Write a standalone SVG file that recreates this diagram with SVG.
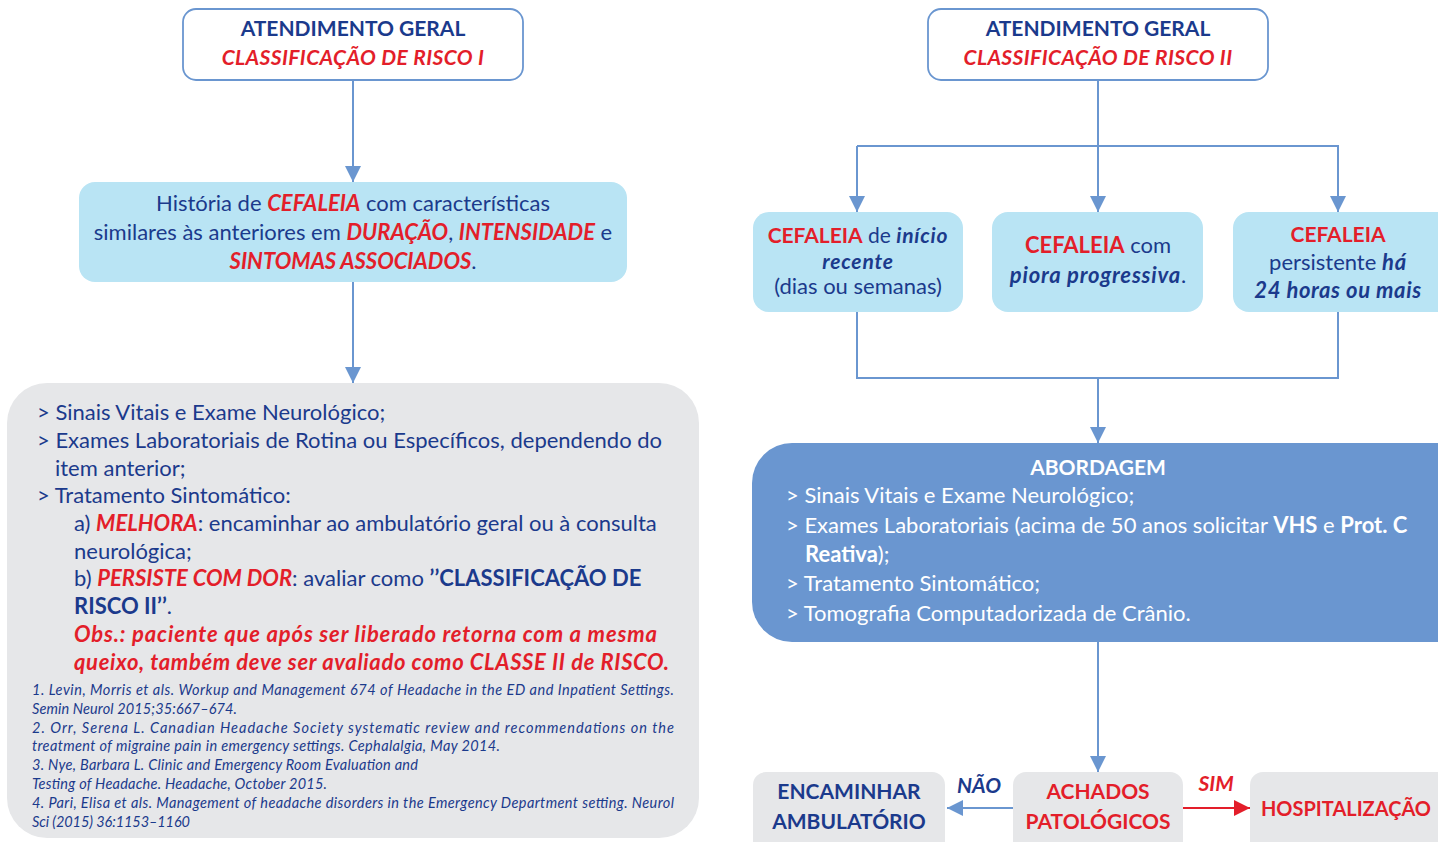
<svg xmlns="http://www.w3.org/2000/svg" width="1438" height="842" viewBox="0 0 1438 842">
<style>
text{font-family:Lato,"Open Sans","Liberation Sans",sans-serif;fill:#1b3a8c}
.b{font-weight:bold}
.i{font-style:italic}
.r{fill:#e31e2a}
.w{fill:#ffffff}
.c{text-anchor:middle}
.t{font-size:22px}
.h{font-size:21px}
.sp{letter-spacing:0.8px}
.ref{font-size:14.5px;font-style:italic}
.ln{stroke:#6a96d0;stroke-width:2;fill:none}
.white{fill:#ffffff;stroke:#6a96d0;stroke-width:1.8}
.lb{fill:#b9e4f4}
.gr{fill:#e6e7e9}
.db{fill:#6a96d0}
</style>
<defs>
<marker id="ab" markerUnits="userSpaceOnUse" markerWidth="16" markerHeight="18" refX="16" refY="8" orient="auto"><path d="M0,0 L16,8 L0,16 z" fill="#6a96d0"/></marker>
<marker id="ar" markerUnits="userSpaceOnUse" markerWidth="16" markerHeight="18" refX="16" refY="8" orient="auto"><path d="M0,0 L16,8 L0,16 z" fill="#e31e2a"/></marker>
</defs>

<g id="connectors">
<path class="ln" d="M353,80 V182" marker-end="url(#ab)"/>
<path class="ln" d="M353,282 V383" marker-end="url(#ab)"/>
<path class="ln" d="M1098,80 V146"/>
<path class="ln" d="M857,146 H1338 V212" marker-end="url(#ab)"/>
<path class="ln" d="M857,146 V212" marker-end="url(#ab)"/>
<path class="ln" d="M1098,146 V212" marker-end="url(#ab)"/>
<path class="ln" d="M857,312 V378 H1338 V312"/>
<path class="ln" d="M1098,378 V443" marker-end="url(#ab)"/>
<path class="ln" d="M1098,642 V772" marker-end="url(#ab)"/>
<path class="ln" d="M1013,808 H947" marker-end="url(#ab)"/>
<path d="M1183,808 H1250" stroke="#e31e2a" stroke-width="2" fill="none" marker-end="url(#ar)"/>
<text class="b i h" x="979" y="793" text-anchor="middle">NÃO</text>
<text class="b i h r" x="1216" y="791" text-anchor="middle">SIM</text>
</g>

<g id="top-left">
<rect class="white" x="183" y="9" width="340" height="71" rx="13"/>
<text class="b c h" x="353" y="36">ATENDIMENTO GERAL</text>
<text class="b i c h r" x="353" y="65" letter-spacing="0.4">CLASSIFICAÇÃO DE RISCO I</text>
</g>

<g id="historia">
<rect class="lb" x="79" y="182" width="548" height="100" rx="16"/>
<text class="c t" x="353" y="211">História de <tspan class="b i r">CEFALEIA</tspan> com características</text>
<text class="c t" x="353" y="240">similares às anteriores em <tspan class="b i r">DURAÇÃO</tspan>, <tspan class="b i r">INTENSIDADE</tspan> e</text>
<text class="c t" x="353" y="269"><tspan class="b i r">SINTOMAS ASSOCIADOS</tspan>.</text>
</g>

<g id="conduta">
<rect class="gr" x="7" y="383" width="692" height="455" rx="40"/>
<text class="t" x="37" y="420">&gt; Sinais Vitais e Exame Neurológico;</text>
<text class="t" x="37" y="448">&gt; Exames Laboratoriais de Rotina ou Específicos, dependendo do</text>
<text class="t" x="55" y="476">item anterior;</text>
<text class="t" x="37" y="503">&gt; Tratamento Sintomático:</text>
<text class="t" x="74" y="531">a) <tspan class="b i r">MELHORA</tspan>: encaminhar ao ambulatório geral ou à consulta</text>
<text class="t" x="74" y="559">neurológica;</text>
<text class="t" x="74" y="586">b) <tspan class="b i r">PERSISTE COM DOR</tspan>: avaliar como <tspan class="b">’’CLASSIFICAÇÃO DE</tspan></text>
<text class="t" x="74" y="614"><tspan class="b">RISCO II’’</tspan>.</text>
<text class="t b i r" x="74" y="642" textLength="583" lengthAdjust="spacing">Obs.: paciente que após ser liberado retorna com a mesma</text>
<text class="t b i r" x="74" y="670" textLength="595" lengthAdjust="spacing">queixo, também deve ser avaliado como CLASSE II de RISCO.</text>
<text class="ref" x="32" y="695" textLength="642" lengthAdjust="spacing">1. Levin, Morris et als. Workup and Management 674 of Headache in the ED and Inpatient Settings.</text>
<text class="ref" x="32" y="714" textLength="205" lengthAdjust="spacing">Semin Neurol 2015;35:667–674.</text>
<text class="ref" x="32" y="733" textLength="642" lengthAdjust="spacing">2. Orr, Serena L. Canadian Headache Society systematic review and recommendations on the</text>
<text class="ref" x="32" y="751" textLength="468" lengthAdjust="spacing">treatment of migraine pain in emergency settings. Cephalalgia, May 2014.</text>
<text class="ref" x="32" y="770" textLength="386" lengthAdjust="spacing">3. Nye, Barbara L. Clinic and Emergency Room Evaluation and</text>
<text class="ref" x="32" y="789" textLength="295" lengthAdjust="spacing">Testing of Headache. Headache, October 2015.</text>
<text class="ref" x="32" y="808" textLength="642" lengthAdjust="spacing">4. Pari, Elisa et als. Management of headache disorders in the Emergency Department setting. Neurol</text>
<text class="ref" x="32" y="827" textLength="158" lengthAdjust="spacing">Sci (2015) 36:1153–1160</text>
</g>

<g id="top-right">
<rect class="white" x="928" y="9" width="340" height="71" rx="13"/>
<text class="b c h" x="1098" y="36">ATENDIMENTO GERAL</text>
<text class="b i c h r" x="1098" y="65" letter-spacing="0.4">CLASSIFICAÇÃO DE RISCO II</text>
</g>

<g id="inicio-recente">
<rect class="lb" x="753" y="212" width="210" height="100" rx="16"/>
<text class="c h" x="858" y="243"><tspan class="b r">CEFALEIA</tspan> de <tspan class="b i sp">início</tspan></text>
<text class="c h b i sp" x="858" y="269">recente</text>
<text class="c t" x="858" y="294">(dias ou semanas)</text>
</g>

<g id="piora-progressiva">
<rect class="lb" x="992" y="212" width="211" height="100" rx="16"/>
<text class="c t" x="1098" y="253"><tspan class="b r">CEFALEIA</tspan> com</text>
<text class="c t" x="1098" y="283"><tspan class="b i sp">piora progressiva</tspan>.</text>
</g>

<g id="persistente">
<rect class="lb" x="1233" y="212" width="220" height="100" rx="16"/>
<text class="c h b r" x="1338" y="242">CEFALEIA</text>
<text class="c t" x="1338" y="270">persistente <tspan class="b i sp">há</tspan></text>
<text class="c t b i" x="1338" y="298" letter-spacing="0.6">24 horas ou mais</text>
</g>

<g id="abordagem">
<rect class="db" x="752" y="443" width="730" height="199" rx="40"/>
<text class="c h b w" x="1098" y="475">ABORDAGEM</text>
<text class="t w" x="786" y="503">&gt; Sinais Vitais e Exame Neurológico;</text>
<text class="t w" x="786" y="533">&gt; Exames Laboratoriais (acima de 50 anos solicitar <tspan class="b">VHS</tspan> e <tspan class="b">Prot. C</tspan></text>
<text class="t w" x="805" y="562"><tspan class="b">Reativa</tspan>);</text>
<text class="t w" x="786" y="591">&gt; Tratamento Sintomático;</text>
<text class="t w" x="786" y="621">&gt; Tomografia Computadorizada de Crânio.</text>
</g>

<g id="encaminhar">
<rect class="gr" x="753" y="772" width="192" height="90" rx="13"/>
<text class="c h b" x="849" y="799">ENCAMINHAR</text>
<text class="c h b" x="849" y="829">AMBULATÓRIO</text>
</g>

<g id="achados">
<rect class="gr" x="1013" y="772" width="170" height="90" rx="13"/>
<text class="c h b r" x="1098" y="799">ACHADOS</text>
<text class="c h b r" x="1098" y="829">PATOLÓGICOS</text>
</g>

<g id="hospitalizacao">
<rect class="gr" x="1250" y="772" width="210" height="90" rx="13"/>
<text class="c b r" x="1346" y="816" font-size="20">HOSPITALIZAÇÃO</text>
</g>
</svg>
